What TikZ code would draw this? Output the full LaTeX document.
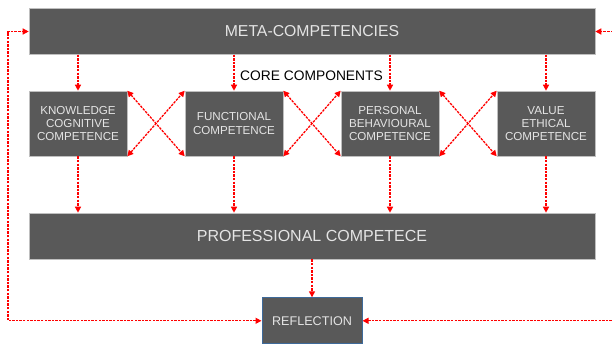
\documentclass[tikz,border=0pt]{standalone}
\usepackage{fontspec}
\setmainfont{Liberation Sans}
\usetikzlibrary{arrows.meta}
\usetikzlibrary{positioning}

\definecolor{boxfill}{HTML}{595959}
\definecolor{boxline}{HTML}{BFBFBF}
\definecolor{boxtext}{HTML}{E4E4E4}
\definecolor{linkred}{HTML}{FF0000}
\definecolor{reflline}{HTML}{3E6A9A}

\begin{document}
\begin{tikzpicture}[x=1pt,y=-1pt,
    block/.style={rectangle,draw=boxline, line width=0.6pt, fill=boxfill, text=boxtext, align=center, inner sep=0pt},
    component/.style={block, minimum width=98pt, minimum height=65pt, font=\fontsize{11.6}{13.2}\selectfont},
    wide/.style={block, minimum width=566pt, minimum height=45.5pt, font=\fontsize{15.8}{18}\selectfont},
    link/.style={draw=linkred, line width=1.3pt, dash pattern=on 2.5pt off 1.1pt},
    >={Triangle[width=6pt,length=6pt]}
    ]
    \useasboundingbox (0,0) rectangle (612,343);

    \node[wide] (meta) at (312,31.5) {META-COMPETENCIES};
    \node[font=\fontsize{13.8}{16}\selectfont] (core) at (311.5,75.5) {CORE COMPONENTS};

    \def\components{{KNOWLEDGE\\COGNITIVE\\COMPETENCE},{FUNCTIONAL\\COMPETENCE},{PERSONAL\\BEHAVIOURAL\\COMPETENCE},{VALUE\\ETHICAL\\COMPETENCE}}

    \node[wide, minimum height=46pt, font=\fontsize{16}{19}\selectfont] (prof) at (312,236) {PROFESSIONAL COMPETECE};
    \node[block, draw=reflline, line width=1pt, minimum width=100pt, minimum height=46pt,
        font=\fontsize{12.6}{15}\selectfont, below=38pt of prof] (refl) {REFLECTION};

    \foreach \txt[count=\i, remember=\i as \previ (initially 0)] in \components {
        \node[component] (c\i) at ({78+156*(\i-1)},123.5) {\txt};
        % down from the meta box and on to the professional box
        \draw[link,->] (meta.south -| c\i.north) -- (c\i.north);
        \draw[link,->] (c\i.south) -- (prof.north -| c\i.south);
        \ifnum \i > 1
        % crossed links between neighbours
        \draw[link,<->] (c\previ.north east) -- (c\i.south west);
        \draw[link,<->] (c\previ.south east) -- (c\i.north west);
        \fi
    }

    \draw[link,->] (prof.south) -- (refl.north);

    % feedback loops round the sides
    \coordinate (ltop) at (8,31.5);
    \coordinate (rtop) at (616,31.5);
    \draw[link,<->] (refl.west) -- (refl.west -| ltop) -- (ltop) -- (meta.west);
    \draw[link,<->] (refl.east) -- (refl.east -| rtop) -- (rtop) -- (meta.east);
\end{tikzpicture}
\end{document}
